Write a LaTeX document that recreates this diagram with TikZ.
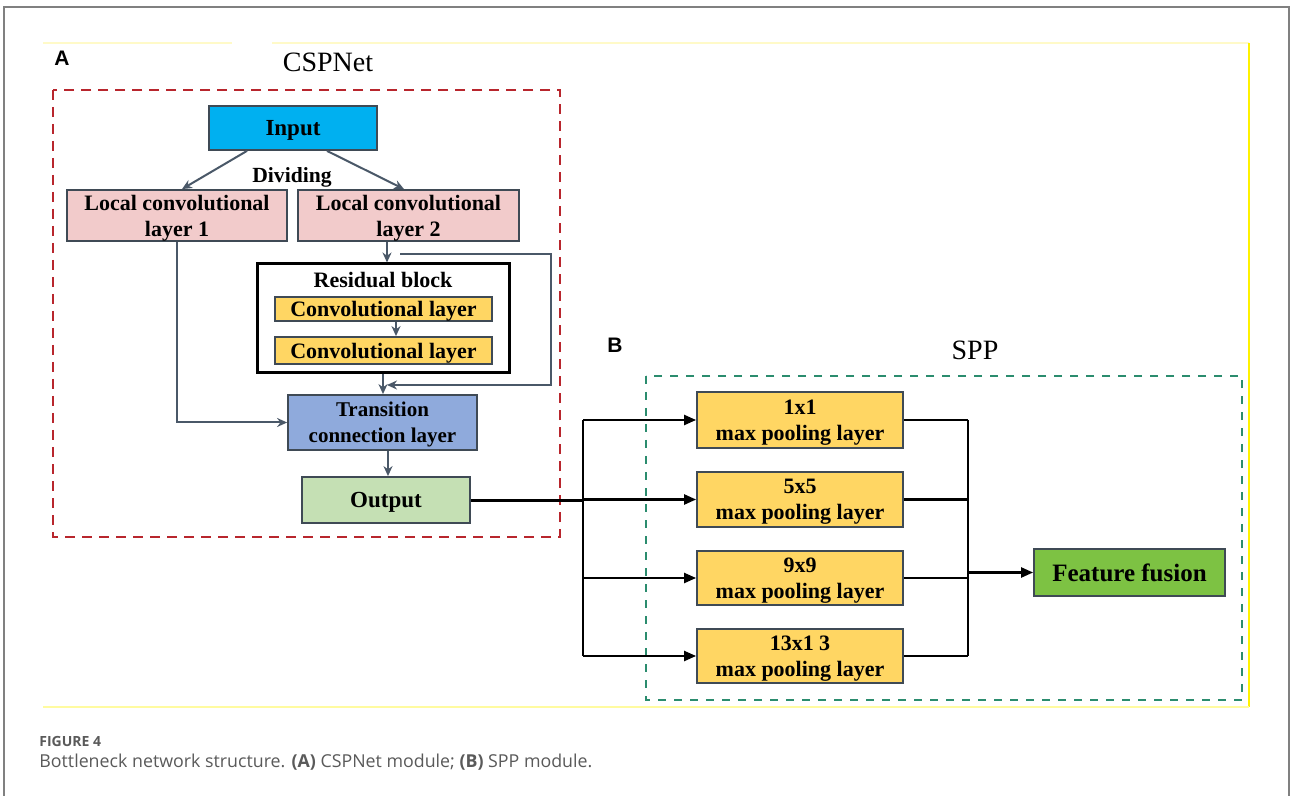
\documentclass[tikz,border=0pt]{standalone}
\usepackage{fontspec}
\setmainfont{Liberation Serif}
\newfontfamily\capfont{Open Sans}
\newfontfamily\lblfont{Liberation Sans}
\usetikzlibrary{arrows.meta}
\definecolor{incyan}{HTML}{00B0F0}
\definecolor{lcpink}{HTML}{F2CBCB}
\definecolor{convyel}{HTML}{FFD663}
\definecolor{trblue}{HTML}{8FAADC}
\definecolor{outgreen}{HTML}{C5E0B4}
\definecolor{ffgreen}{HTML}{7DC243}
\definecolor{boxedge}{HTML}{3F4A55}
\definecolor{slate}{HTML}{4A5868}
\definecolor{dashred}{HTML}{B8262D}
\definecolor{dashgreen}{HTML}{2B8C6E}
\definecolor{framegray}{HTML}{808080}
\definecolor{paleyel}{HTML}{FFFAC8}
\definecolor{capgray}{HTML}{5A5A5A}
\newcommand\bx[7]{%
  \pgfmathsetmacro\bxw{(#4-#2)*0.5}%
  \pgfmathsetmacro\bxh{(#5-#3)*0.5}%
  \node[#6, minimum width=\bxw pt, minimum height=\bxh pt] (#1) at ({(#2+#4)/2},{(#3+#5)/2}) {#7};}
\begin{document}
\begin{tikzpicture}[x=0.5pt,y=-0.5pt,
  box/.style={draw=boxedge, line width=0.9pt, inner sep=0pt, align=center, text depth=0pt,
    font=\bfseries\fontsize{11}{13}\selectfont},
  arrA/.style={draw=slate, line width=1pt, -{Stealth[length=5pt,width=4.5pt]}},
  lineA/.style={draw=slate, line width=1pt},
  arrB/.style={draw=black, line width=1.1pt, -{Triangle[length=6pt,width=5pt]}},
  lineB/.style={draw=black, line width=1.1pt},
  panel/.style={font=\lblfont\bfseries\fontsize{10.5}{12}\selectfont},
  title/.style={font=\fontsize{14}{16}\selectfont, anchor=base},
]
\useasboundingbox (0,0) rectangle (1290,796);
\fill[white] (0,0) rectangle (1290,796);
% outer frame
\draw[framegray, line width=1pt] (4,796) -- (4,7) -- (1289,7) -- (1289,796);
% yellow frame
\draw[paleyel, line width=1pt] (43,43) -- (232,43);
\draw[paleyel, line width=1pt] (272,43) -- (1249,43);
\draw[yellow, line width=1pt] (1249,43) -- (1249,707);
\draw[paleyel!80!yellow, line width=0.8pt] (43,707) -- (1249,707);

% panel labels and titles
\node[panel] (lA) at (62,58) {A};
\node[title] (tcsp) at (328,72) {CSPNet};
\node[panel] (lB) at (615,345) {B};
\node[title] (tspp) at (975,360) {SPP};

% dashed groups
\draw[dashred, line width=1.2pt, dash pattern=on 5pt off 3.5pt] (53,90) rectangle (560,537);
\draw[dashgreen, line width=1.2pt, dash pattern=on 4pt off 4pt] (646,376) rectangle (1242,700);

% CSPNet boxes
\bx{inp}{209}{106}{377}{150}{box, fill=incyan, font=\bfseries\fontsize{11.5}{13}\selectfont}{Input}
\bx{lc1}{67}{190}{287}{241}{box, fill=lcpink}{Local convolutional\\layer 1}
\bx{lc2}{298}{190}{519}{241}{box, fill=lcpink}{Local convolutional\\layer 2}
\bx{res}{257}{264}{509}{373}{draw=black, line width=1.5pt}{}
\node[font=\bfseries\fontsize{11}{13}\selectfont, anchor=base] (rlab) at (383,288) {Residual block};
\bx{cv1}{275}{297}{492}{321}{box, fill=convyel}{Convolutional layer}
\bx{cv2}{275}{337}{492}{364}{box, fill=convyel}{Convolutional layer}
\bx{tr}{288}{395}{477}{450}{box, fill=trblue, font=\bfseries\fontsize{10.5}{13}\selectfont}{Transition\\connection layer}
\bx{out}{302}{477}{470}{523}{box, fill=outgreen, font=\bfseries\fontsize{11.5}{13}\selectfont}{Output}
\node[font=\bfseries\fontsize{10.8}{13}\selectfont, anchor=base] (div) at (292,183) {Dividing};

% CSPNet connectors
\draw[arrA] (inp.south -| 247,0) -- (lc1.north -| 182,0);
\draw[arrA] (inp.south -| 327,0) -- (lc2.north -| 404,0);
\draw[arrA] (lc1.south -| 177,0) |- (tr.west);
\draw[arrA] (lc2.south -| 387,0) -- (res.north -| 387,0);
\coordinate (byp) at (400,254);
\coordinate (bypend) at (387,385);
\draw[arrA] (byp) -- (551,254) -- (551,385) -- (bypend);
\draw[arrA] (cv1.south -| 396,0) -- (cv2.north -| 396,0);
\draw[arrA] (res.south -| 383,0) -- (tr.north -| 383,0);
\draw[arrA] (tr.south -| 388,0) -- (out.north -| 388,0);

% SPP boxes
\bx{p1}{697}{392}{903}{448}{box, fill=convyel}{1x1\\max pooling layer}
\bx{p2}{697}{472}{903}{527}{box, fill=convyel}{5x5\\max pooling layer}
\bx{p3}{697}{551}{903}{605}{box, fill=convyel}{9x9\\max pooling layer}
\bx{p4}{697}{629}{903}{683}{box, fill=convyel}{13x1 3\\max pooling layer}
\bx{ff}{1034}{549}{1225}{596}{box, fill=ffgreen, font=\bfseries\fontsize{12.5}{14}\selectfont}{Feature fusion}

% SPP connectors
\coordinate (split) at (583,500);
\coordinate (merge) at (968,572);
\draw[lineB, line width=1.5pt] (out.east) -- (split);
\draw[lineB] (p1.west -| split) -- (p4.west -| split);
\draw[arrB] (p1.west -| split) -- (p1.west);
\draw[arrB] (p2.west -| split) -- (p2.west);
\draw[arrB] (p3.west -| split) -- (p3.west);
\draw[arrB] (p4.west -| split) -- (p4.west);
\draw[lineB] (p1.east) -- (p1.east -| merge);
\draw[lineB] (p2.east) -- (p2.east -| merge);
\draw[lineB] (p3.east) -- (p3.east -| merge);
\draw[lineB] (p4.east) -- (p4.east -| merge);
\draw[lineB] (p1.east -| merge) -- (p4.east -| merge);
\draw[arrB] (ff.west -| merge) -- (ff.west);

% caption
\node[anchor=base west, inner sep=0pt, text=capgray, font=\capfont\bfseries\fontsize{7}{8}\selectfont] (cap1) at (39,746) {FIGURE 4};
\node[anchor=base west, inner sep=0pt, text=capgray, font=\capfont\fontsize{8.9}{10}\selectfont] (cap2) at (39,767) {Bottleneck network structure. \textbf{(A)} CSPNet module; \textbf{(B)} SPP module.};
\end{tikzpicture}
\end{document}
